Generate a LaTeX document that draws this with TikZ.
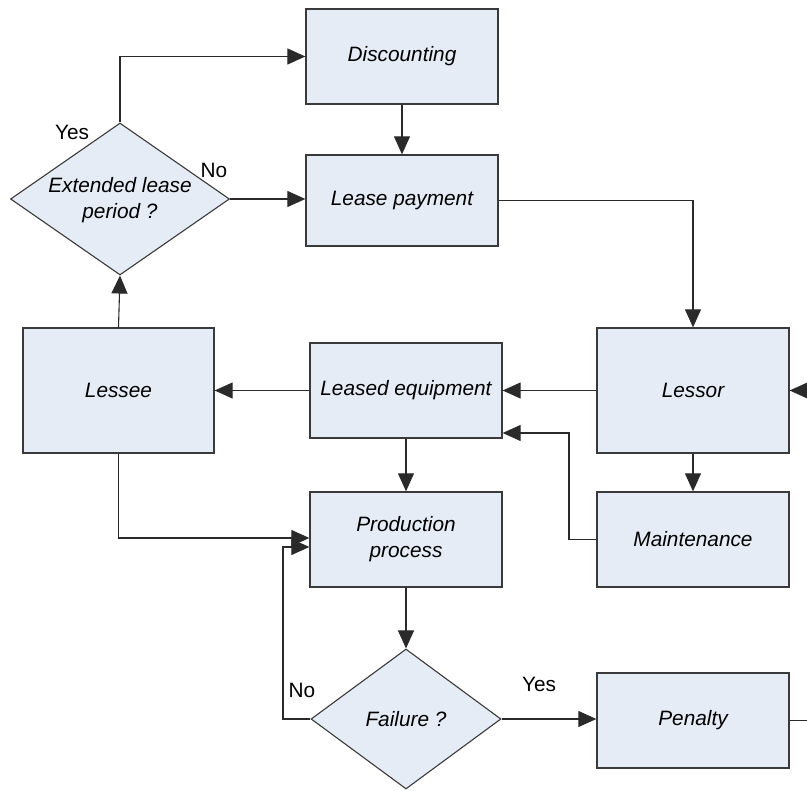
\documentclass[tikz,border=0pt]{standalone}
\usepackage{fontspec}
\setmainfont{Liberation Sans}
\usetikzlibrary{arrows.meta,shapes.geometric,calc}
\definecolor{boxfill}{HTML}{E6ECF6}
\definecolor{boxline}{HTML}{3A3A3A}
\definecolor{conn}{HTML}{2A2A2A}
\begin{document}
\begin{tikzpicture}[x=1pt,y=-1pt,
  every node/.style={font=\fontsize{20.5}{26}\selectfont},
  procbox/.style={draw=boxline,fill=boxfill,line width=1.3pt,rectangle,inner sep=0pt,
    minimum width=192pt,minimum height=95pt,align=center,font=\fontsize{20.8}{26}\selectfont\itshape},
  decbox/.style={draw=boxline,fill=boxfill,line width=1.1pt,diamond,inner sep=0pt},
  dectext/.style={align=center,font=\fontsize{20.8}{26}\selectfont\itshape},
  lbl/.style={font=\fontsize{20.8}{26}\selectfont},
  arr/.style={draw=conn,line width=1.1pt,-{Triangle[length=18pt,width=16pt]}},
  ln/.style={draw=conn,line width=1.1pt}]
\useasboundingbox (0,0) rectangle (807,791);

\node[procbox,minimum height=95pt] (disc) at (402,56.5) {Discounting};
\node[procbox,minimum height=91pt] (lease) at (402,200.5) {Lease payment};
\node[procbox,minimum height=125pt] (lessor) at (693,390.5) {Lessor};
\node[procbox,minimum width=191pt,minimum height=125pt] (lessee) at (118.5,390.5) {Lessee};
\node[procbox] (leq) at (406,390.5) {Leased equipment};
\node[procbox] (prod) at (406,539.5) {Production\\process};
\node[procbox] (maint) at (693,539.5) {Maintenance};
\node[procbox] (pen) at (693,720.5) {Penalty};

\node[decbox,minimum width=219pt,minimum height=152pt] (ext) at (120,199) {};
\node[dectext] (exttext) at (120,200) {Extended lease\\period ?};
\node[decbox,minimum width=190pt,minimum height=140pt] (fail) at (406,719) {};
\node[dectext] (failtext) at (406,719) {Failure ?};

\node[lbl] (yes1) at (72,132) {Yes};
\node[lbl] (no1) at (214,170) {No};
\node[lbl] (yes2) at (539,684) {Yes};
\node[lbl] (no2) at (302,690) {No};

\coordinate (m1) at (569,433);
\coordinate (f1) at (283,547);
\coordinate (l1) at (118.5,538);
\coordinate (r1) at (807,390.5);
\coordinate (r2) at (807,720.5);

\draw[arr] (ext.north) |- (disc.west);
\draw[arr] (ext.east) -- (ext.east -| lease.west);
\draw[arr] (disc.south) -- (lease.north);
\draw[arr] (lease.east) -| (lessor.north);
\draw[arr] (lessor.west) -- (leq.east);
\draw[arr] (leq.west) -- (lessee.east);
\draw[arr] (lessee.north) -- (ext.south);
\draw[arr] (leq.south) -- (prod.north);
\draw[arr] (lessee.south) -- (l1) -- (l1 -| prod.west);
\draw[arr] (lessor.south) -- (maint.north);
\draw[arr] (maint.west) -| (m1) -- (m1 -| leq.east);
\draw[arr] (prod.south) -- (fail.north);
\draw[arr] (fail.west) -| (f1) -- (f1 -| prod.west);
\draw[arr] (fail.east) -- (fail.east -| pen.west);
\draw[arr] (r1) -- (lessor.east);
\draw[ln] (pen.east) -- (r2);
\end{tikzpicture}
\end{document}
